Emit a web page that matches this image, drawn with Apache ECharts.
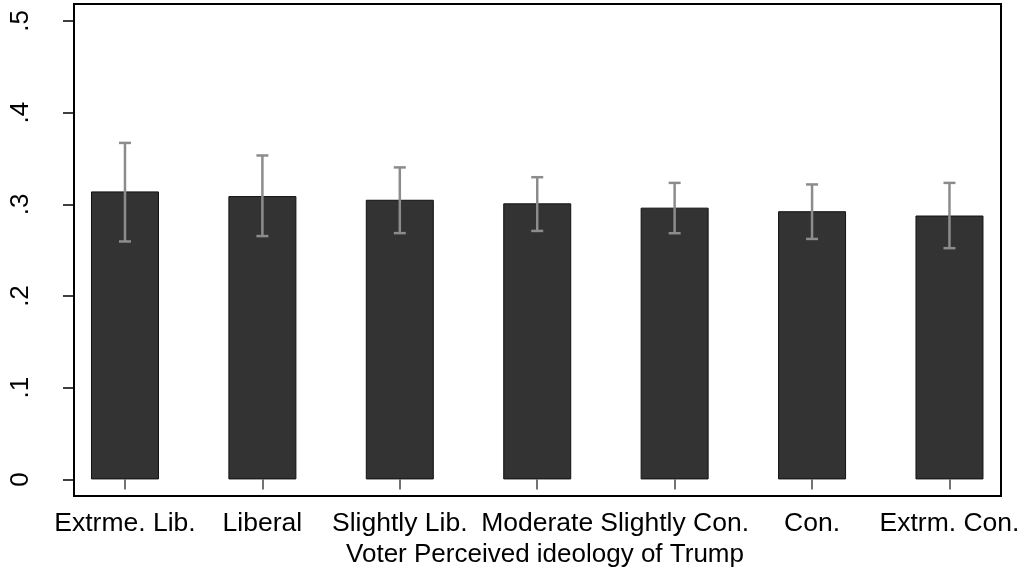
<!DOCTYPE html>
<html>
<head>
<meta charset="utf-8">
<script src="https://cdn.jsdelivr.net/npm/echarts@6/dist/echarts.min.js"></script>
<style>
  html, body { margin: 0; padding: 0; background: #fff; }
  #chart { width: 1024px; height: 573px; }
</style>
</head>
<body>
<div id="chart"></div>
<script>
// Share by perceived ideology of Trump, with confidence intervals
var categories = ['Extrme. Lib.', 'Liberal', 'Slightly Lib.', 'Moderate', 'Slightly Con.', 'Con.', 'Extrm. Con.'];
var means = [0.3141, 0.3090, 0.3050, 0.3011, 0.2964, 0.2925, 0.2878];
var upper = [0.3670, 0.3533, 0.3403, 0.3296, 0.3234, 0.3217, 0.3234];
var lower = [0.2595, 0.2654, 0.2686, 0.2710, 0.2685, 0.2623, 0.2522];
var yTicks = [0, 0.1, 0.2, 0.3, 0.4, 0.5];
var yTickLabels = ['0', '.1', '.2', '.3', '.4', '.5'];
var xTitle = 'Voter Perceived ideology of Trump';

var positions = categories.map(function (_, i) { return i + 1; });
var barData = means.map(function (v, i) { return [positions[i], v]; });
var ciData = lower.map(function (lo, i) { return [positions[i], lo, upper[i]]; });

var FONT = '"Liberation Sans", Arial, Helvetica, sans-serif';

var chart = echarts.init(document.getElementById('chart'), null, { renderer: 'canvas' });
chart.setOption({
  animation: false,
  backgroundColor: '#ffffff',
  grid: {
    left: 74, right: 23, top: 4, bottom: 74.5,
    show: true, borderColor: '#000000', borderWidth: 2, backgroundColor: '#ffffff'
  },
  xAxis: {
    type: 'value',
    min: 0.629, max: 7.375,
    splitLine: { show: false },
    axisLine: { show: false },
    axisTick: { show: true, length: 10, lineStyle: { color: '#444', width: 1.5 }, customValues: positions },
    axisLabel: {
      customValues: positions,
      margin: 14,
      color: '#000', fontFamily: FONT, fontSize: 26.5,
      formatter: function (v) { return categories[Math.round(v) - 1] || ''; }
    },
    name: xTitle,
    nameLocation: 'middle',
    nameGap: 39,
    nameTextStyle: { color: '#000', fontFamily: FONT, fontSize: 26, padding: [0, 0, 0, 15] }
  },
  yAxis: {
    type: 'value',
    min: -0.0182, max: 0.5185,
    splitLine: { show: false },
    axisLine: { show: false },
    axisTick: { show: true, length: 11, lineStyle: { color: '#000', width: 1.5 }, customValues: yTicks },
    axisLabel: {
      customValues: yTicks,
      rotate: 90,
      margin: 40,
      color: '#000', fontFamily: FONT, fontSize: 26,
      formatter: function (v) {
        var idx = yTicks.findIndex(function (t) { return Math.abs(t - v) < 1e-9; });
        return idx >= 0 ? yTickLabels[idx] : '';
      }
    }
  },
  series: [
    {
      type: 'bar',
      data: barData,
      barWidth: 68,
      itemStyle: { color: '#333333', borderColor: '#111111', borderWidth: 1 },
      z: 2
    },
    {
      type: 'custom',
      data: ciData,
      z: 3,
      renderItem: function (params, api) {
        var x = api.value(0);
        var top = api.coord([x, api.value(2)]);
        var bot = api.coord([x, api.value(1)]);
        var cap = 6;
        var style = { stroke: '#8c8c8c', lineWidth: 2.5, fill: null };
        return {
          type: 'group',
          children: [
            { type: 'line', shape: { x1: top[0], y1: top[1], x2: bot[0], y2: bot[1] }, style: style },
            { type: 'line', shape: { x1: top[0] - cap, y1: top[1], x2: top[0] + cap, y2: top[1] }, style: style },
            { type: 'line', shape: { x1: bot[0] - cap, y1: bot[1], x2: bot[0] + cap, y2: bot[1] }, style: style }
          ]
        };
      }
    }
  ]
});
</script>
</body>
</html>
